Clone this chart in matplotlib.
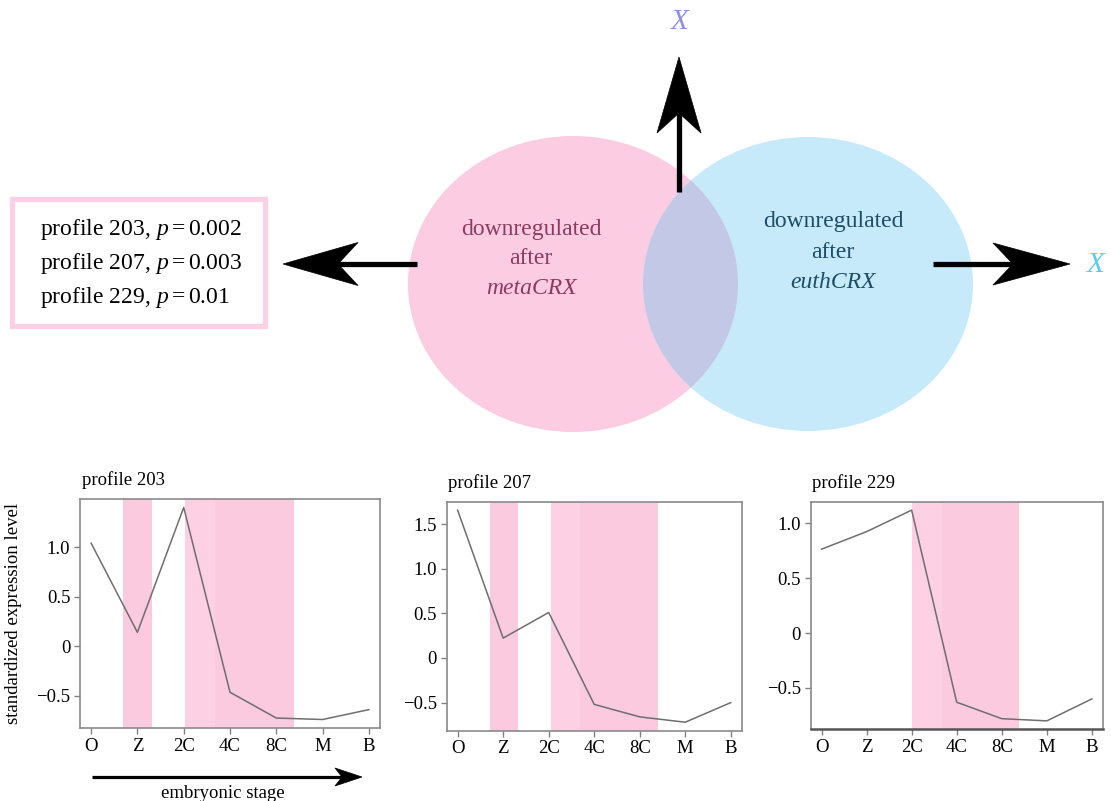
import matplotlib
matplotlib.use("Agg")
import matplotlib.pyplot as plt
from matplotlib.patches import Ellipse, Polygon, Rectangle
import numpy as np

plt.rcParams['font.family'] = ['Liberation Serif', 'DejaVu Serif']
plt.rcParams['mathtext.fontset'] = 'custom'
plt.rcParams['mathtext.rm'] = 'Liberation Serif'
plt.rcParams['mathtext.it'] = 'Liberation Serif:italic'

# data
stages = ['O', 'Z', '2C', '4C', '8C', 'M', 'B']
profile_names = ['profile 203', 'profile 207', 'profile 229']
p_values = ['0.002', '0.003', '0.01']
profile_203 = [1.04, 0.14, 1.40, -0.465, -0.725, -0.74, -0.64]
profile_207 = [1.657, 0.223, 0.51, -0.52, -0.66, -0.72, -0.50]
profile_229 = [0.764, 0.924, 1.12, -0.63, -0.78, -0.80, -0.60]
yticks_203 = [-0.5, 0, 0.5, 1.0]
yticks_207 = [-0.5, 0, 0.5, 1.0, 1.5]
yticks_229 = [-0.5, 0, 0.5, 1.0]
# shaded stage ranges (x in stage index units)
spans_203 = [(0.68, 1.31), (2.03, 4.39)]
spans_207 = [(0.71, 1.32), (2.06, 4.41)]
spans_229 = [(2.01, 4.39)]

W, H = 1111, 801
fig = plt.figure(figsize=(W / 100, H / 100), dpi=100)

# overlay in pixel coordinates for the diagram part
ov = fig.add_axes([0, 0, 1, 1], zorder=0)
ov.set_xlim(0, W)
ov.set_ylim(H, 0)
ov.axis('off')

PINK = '#fccce2'
BLUE = '#c7eafb'
OVERLAP = '#c4c8e7'

pink_e = Ellipse((573, 284), 330, 296, facecolor=PINK, edgecolor='none', zorder=1)
blue_e = Ellipse((808, 284), 330, 294, facecolor=BLUE, edgecolor='none', zorder=2)
ov.add_patch(pink_e)
ov.add_patch(blue_e)
mid_e = Ellipse((573, 284), 330, 296, facecolor=OVERLAP, edgecolor='none', zorder=3)
ov.add_patch(mid_e)
mid_e.set_clip_path(blue_e)

venn_font = 17
for txt, y, st in [('downregulated', 230, 'normal'), ('after', 259, 'normal'),
                   ('metaCRX', 288, 'italic')]:
    ov.text(531, y, txt, color='#8c3a62', fontsize=venn_font, style=st,
            ha='center', va='center', zorder=5)
for txt, y, st in [('downregulated', 222, 'normal'), ('after', 252, 'normal'),
                   ('euthCRX', 282, 'italic')]:
    ov.text(833, y, txt, color='#1d4d66', fontsize=venn_font, style=st,
            ha='center', va='center', zorder=5)


def notched_arrow(ax, start, tip, head_len, head_w, notch, lw):
    s = np.array(start, float)
    t = np.array(tip, float)
    d = (t - s) / np.linalg.norm(t - s)
    n = np.array([-d[1], d[0]])
    base = t - d * head_len
    notch_pt = base + d * notch
    ax.plot([s[0], notch_pt[0]], [s[1], notch_pt[1]], color='black', lw=lw,
            solid_capstyle='butt', zorder=6)
    head = [t, base + n * head_w / 2, notch_pt, base - n * head_w / 2]
    ax.add_patch(Polygon(head, closed=True, facecolor='black', edgecolor='black',
                         lw=0.5, zorder=7))


notched_arrow(ov, (679, 192), (679, 57), 76, 44, 20, 3.8)
notched_arrow(ov, (933, 264), (1070, 264), 77, 42, 20, 3.8)
notched_arrow(ov, (417, 264), (283, 264), 75, 43, 20, 3.8)

ov.text(680, 22, 'X', color='#8d8fdc', fontsize=21, style='italic',
        ha='center', va='center')
ov.text(1096, 265, 'X', color='#5ec8f7', fontsize=21, style='italic',
        ha='center', va='center')

# legend box with p-values
ov.add_patch(Rectangle((12, 199), 253, 127, facecolor='white', edgecolor='#fdd1e5',
                       lw=3.8, zorder=4))
for i, (name, pv) in enumerate(zip(profile_names, p_values)):
    ov.text(40, 230 + i * 34, name + ', $p = $' + pv, fontsize=17,
            ha='left', va='center', zorder=5)

# bottom arrow: embryonic stage
notched_arrow(ov, (92, 777), (362, 777), 27, 18, 7, 2.3)
ov.text(223, 793, 'embryonic stage', fontsize=13.5, ha='center', va='center')

# profile panels
rects = [[80, 499, 380, 728], [446.7, 501.7, 741.7, 730.7], [810.7, 501.7, 1102.7, 729.3]]
series = [profile_203, profile_207, profile_229]
yticks_all = [yticks_203, yticks_207, yticks_229]
spans_all = [spans_203, spans_207, spans_229]
x = np.arange(len(stages))


def fmt(v):
    if v == 0:
        return '0'
    return ('\u2212' if v < 0 else '') + f'{abs(v):.1f}'


for k in range(3):
    l, t, r, b = rects[k]
    ax = fig.add_axes([l / W, 1 - b / H, (r - l) / W, (b - t) / H], zorder=2)
    vals = series[k]
    for a, bb in spans_all[k]:
        split = 2.68
        if a < split < bb:
            ax.axvspan(a, split, color='#fdd0e4', lw=0, zorder=0)
            ax.axvspan(split, bb, color='#fbcadf', lw=0, zorder=0)
        else:
            ax.axvspan(a, bb, color='#fbcadf', lw=0, zorder=0)
    ax.plot(x, vals, color='#6e6e6e', lw=1.1, zorder=2)
    ax.set_xlim(-0.24, 6.24)
    lo, hi = min(vals), max(vals)
    pad = (hi - lo) * 0.04
    ax.set_ylim(lo - pad, hi + pad)
    ax.set_xticks(x)
    ax.set_xticklabels(stages)
    ax.set_yticks(yticks_all[k])
    ax.set_yticklabels([fmt(v) for v in yticks_all[k]])
    ax.tick_params(axis='both', direction='out', length=4, width=1,
                   color='#808080', labelsize=13.5, pad=3)
    for sp in ax.spines.values():
        sp.set_color('#8a8a8a')
        sp.set_linewidth(1.2)
    if k == 2:
        ax.spines['bottom'].set_color('#555555')
        ax.spines['bottom'].set_linewidth(1.8)
    ax.text(0.005, 1.083, profile_names[k], transform=ax.transAxes,
            fontsize=13.5, ha='left', va='center')
    if k == 0:
        ax.set_ylabel('standardized expression level', fontsize=13.5)
        ax.yaxis.set_label_coords(-0.193, 0.5)

fig.savefig('out.png', dpi=100)
